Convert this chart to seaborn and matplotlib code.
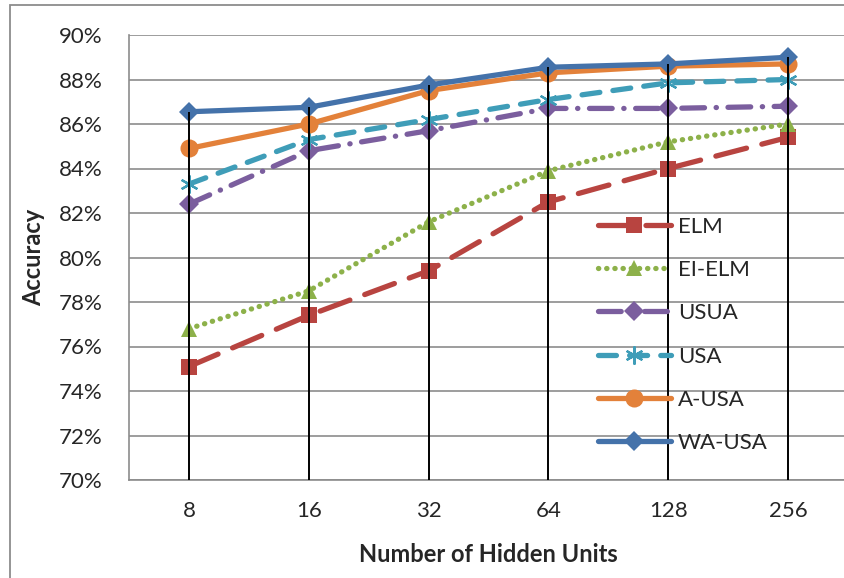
import pandas as pd
import matplotlib.pyplot as plt
import seaborn as sns
from matplotlib.patches import Rectangle

# Accuracy (%) per number of hidden units
hidden_units = ["8", "16", "32", "64", "128", "256"]
elm = [75.1, 77.4, 79.4, 82.5, 84.0, 85.4]
ei_elm = [76.8, 78.5, 81.6, 83.9, 85.2, 86.0]
usua = [82.4, 84.8, 85.7, 86.7, 86.7, 86.8]
usa = [83.3, 85.3, 86.2, 87.1, 87.85, 88.0]
a_usa = [84.9, 86.0, 87.5, 88.3, 88.6, 88.7]
wa_usa = [86.55, 86.75, 87.75, 88.55, 88.7, 89.0]

series = {"ELM": elm, "EI-ELM": ei_elm, "USUA": usua,
          "USA": usa, "A-USA": a_usa, "WA-USA": wa_usa}

rows = []
for name, vals in series.items():
    for i, (u, v) in enumerate(zip(hidden_units, vals)):
        rows.append({"pos": i, "units": u, "Accuracy": v, "Method": name})
df = pd.DataFrame(rows)

sns.set_style("white")
plt.rcParams["font.family"] = ["Lato", "DejaVu Sans"]

colors = {"ELM": "#B84440", "EI-ELM": "#8DB14A", "USUA": "#7B5E9E",
          "USA": "#3F9DB8", "A-USA": "#E3813A", "WA-USA": "#4472AA"}
markers = {"ELM": "s", "EI-ELM": "^", "USUA": "D", "USA": (6, 2, 0),
           "A-USA": "o", "WA-USA": "D"}
msizes = {"ELM": 12, "EI-ELM": 12, "USUA": 10, "USA": 13, "A-USA": 13, "WA-USA": 10}
dashes = {"ELM": (6, 3.0), "EI-ELM": (0.05, 1.5), "USUA": (4.3, 2.2, 0.05, 2.2),
          "USA": (3.4, 2.5), "A-USA": None, "WA-USA": None}

fig = plt.figure(figsize=(8.44, 5.78), dpi=100)
ax = fig.add_axes([129 / 844, 1 - 480 / 578, 719 / 844, 445 / 578])

for name in series:
    sub = df[df["Method"] == name]
    sns.lineplot(data=sub, x="pos", y="Accuracy", ax=ax, color=colors[name],
                 marker=markers[name], markersize=msizes[name],
                 markeredgecolor=colors[name], markeredgewidth=1.6 if name == "USA" else 0,
                 linewidth=3.8, label=name, solid_capstyle="round",
                 dash_capstyle="round", zorder=3)
    line = ax.get_lines()[-1]
    if dashes[name] is not None:
        line.set_dashes(dashes[name])

# drop lines from the highest point down to the axis
tops = df.groupby("pos")["Accuracy"].max()
ax.vlines(tops.index, 70, tops.values, color="black", linewidth=1.4, zorder=5)

ax.set_xlim(-0.5, 5.5)
ax.set_ylim(70, 90)
ax.set_yticks(range(70, 91, 2))
ax.set_yticklabels([f"{t}%" for t in range(70, 91, 2)])
ax.set_xticks(range(len(hidden_units)))
ax.set_xticklabels(hidden_units)
ax.yaxis.grid(True, color="#8C8C8C", linewidth=1.2)
ax.set_axisbelow(True)
for s in ["top", "right"]:
    ax.spines[s].set_visible(False)
for s in ["left", "bottom"]:
    ax.spines[s].set_color("#8C8C8C")
    ax.spines[s].set_linewidth(1.2)
ax.tick_params(axis="y", length=6, width=1.2, color="#8C8C8C", pad=13, labelsize=16)
ax.tick_params(axis="x", length=0, pad=15, labelsize=16)

ax.set_xlabel("Number of Hidden Units", fontsize=17, fontweight="bold", labelpad=16)
ax.set_ylabel("Accuracy", fontsize=17, fontweight="bold", labelpad=10)

ax.legend(loc="center left", bbox_to_anchor=(0.652, 0.326), frameon=False,
          fontsize=16, handlelength=3.3, handletextpad=0.3, labelspacing=1.05,
          borderpad=0, borderaxespad=0, numpoints=1)

fig.patches.append(Rectangle((10 / 844, -0.1), 1.2, 1.1 - 5 / 578, transform=fig.transFigure,
                             fill=False, edgecolor="#8C8C8C", linewidth=1.3))

plt.savefig("out.png", dpi=100)
